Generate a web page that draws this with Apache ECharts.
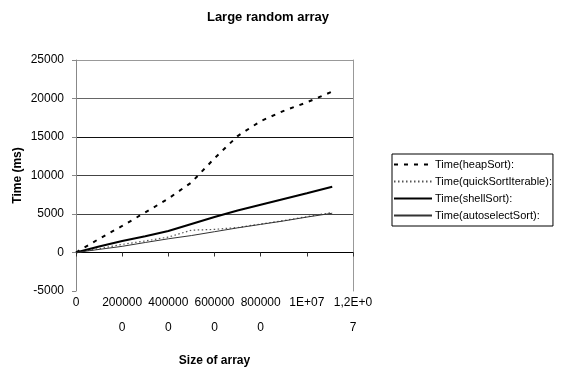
<!DOCTYPE html>
<html>
<head>
<meta charset="utf-8">
<script src="https://cdn.jsdelivr.net/npm/echarts@6/dist/echarts.min.js"></script>
<style>
  html, body { margin: 0; padding: 0; background: #fff; }
  #chart { width: 566px; height: 372px; }
</style>
</head>
<body>
<div id="chart"></div>
<script>
const sizes = [0, 1000000, 2000000, 3000000, 4000000, 5000000, 6000000, 7000000, 8000000, 9000000, 10000000, 11100000];
const heapSort = [0, 1780, 3450, 5200, 7000, 9100, 12230, 15120, 17060, 18400, 19500, 20900];
const quickSortIterable = [0, 500, 1050, 1500, 2000, 2900, 3000, 3250, 3700, 4150, 4650, 5200];
const shellSort = [0, 780, 1500, 2100, 2800, 3700, 4600, 5450, 6200, 6950, 7700, 8550];
const autoselectSort = [0, 400, 800, 1300, 1780, 2200, 2700, 3200, 3650, 4100, 4600, 5100];

const seriesNames = ["Time(heapSort):", "Time(quickSortIterable):", "Time(shellSort):", "Time(autoselectSort):"];
const xTickLabels = ["0", "200000\n0", "400000\n0", "600000\n0", "800000\n0", "1E+07", "1,2E+0\n7"];

const font = "Liberation Sans, Arial, sans-serif";
const pairs = (ys) => sizes.map((x, i) => [x, ys[i]]);

const chart = echarts.init(document.getElementById("chart"), null, { renderer: "canvas" });

chart.setOption({
  backgroundColor: "#fff",
  animation: false,
  title: {
    text: "Large random array",
    left: 263, top: 6, textAlign: "center",
    textStyle: { fontFamily: font, fontSize: 13, fontWeight: "bold", color: "#000" },
  },
  grid: { left: 76, right: 213, top: 60, bottom: 34, containLabel: false },
  legend: {
    orient: "vertical",
    left: 392, top: 154,
    padding: [5, 1, 5, 1],
    itemWidth: 38, itemHeight: 10, itemGap: 6,
    borderColor: "#000", borderWidth: 1,
    itemStyle: { opacity: 0, borderWidth: 0 },
    textStyle: { fontFamily: font, fontSize: 11, color: "#000", padding: [0, 0, 0, -2] },
    data: seriesNames,
  },
  xAxis: {
    type: "value",
    min: 0, max: 12000000, interval: 2000000,
    name: "Size of array",
    nameLocation: "middle", nameGap: 64,
    nameTextStyle: { fontFamily: font, fontSize: 12, fontWeight: "bold", color: "#000" },
    axisLine: { onZero: true, lineStyle: { color: "#000", width: 1 } },
    axisTick: { show: true, length: 4, lineStyle: { color: "#333" } },
    axisLabel: {
      fontFamily: font, fontSize: 12, color: "#000",
      margin: -1, lineHeight: 25,
      showMinLabel: true, showMaxLabel: true, hideOverlap: false,
      formatter: (v) => xTickLabels[Math.round(v / 2000000)] ?? "",
    },
    splitLine: { show: false },
  },
  yAxis: [
    {
      type: "value",
      min: -5000, max: 25000, interval: 5000,
      name: "Time (ms)",
      nameLocation: "middle", nameGap: 52,
      nameTextStyle: { fontFamily: font, fontSize: 12, fontWeight: "bold", color: "#000" },
      axisLine: { show: true, lineStyle: { color: "#888" } },
      axisTick: { show: true, length: 4, lineStyle: { color: "#888" } },
      axisLabel: { fontFamily: font, fontSize: 12, color: "#000", margin: 12, formatter: (v) => String(v) },
      splitLine: {
        show: true,
        lineStyle: { width: 1, color: ["rgba(0,0,0,0)", "rgba(0,0,0,0)", "#444", "#444", "#111", "#666", "#999"] },
      },
    },
    {
      type: "value", position: "right",
      min: -5000, max: 25000, interval: 5000,
      axisLine: { show: true, lineStyle: { color: "#999" } },
      axisTick: { show: false }, axisLabel: { show: false }, splitLine: { show: false },
    },
  ],
  series: [
    {
      name: seriesNames[0], type: "line", data: pairs(heapSort),
      symbol: "none", lineStyle: { color: "#000", width: 2, type: [4, 6] }, itemStyle: { color: "#000" },
    },
    {
      name: seriesNames[1], type: "line", data: pairs(quickSortIterable),
      symbol: "none", lineStyle: { color: "#555", width: 1.2, type: [1.5, 2.5] }, itemStyle: { color: "#555" },
    },
    {
      name: seriesNames[2], type: "line", data: pairs(shellSort),
      symbol: "none", lineStyle: { color: "#000", width: 2 }, itemStyle: { color: "#000" },
    },
    {
      name: seriesNames[3], type: "line", data: pairs(autoselectSort),
      symbol: "none", lineStyle: { color: "#333", width: 1 }, itemStyle: { color: "#333" },
    },
  ],
});
</script>
</body>
</html>
